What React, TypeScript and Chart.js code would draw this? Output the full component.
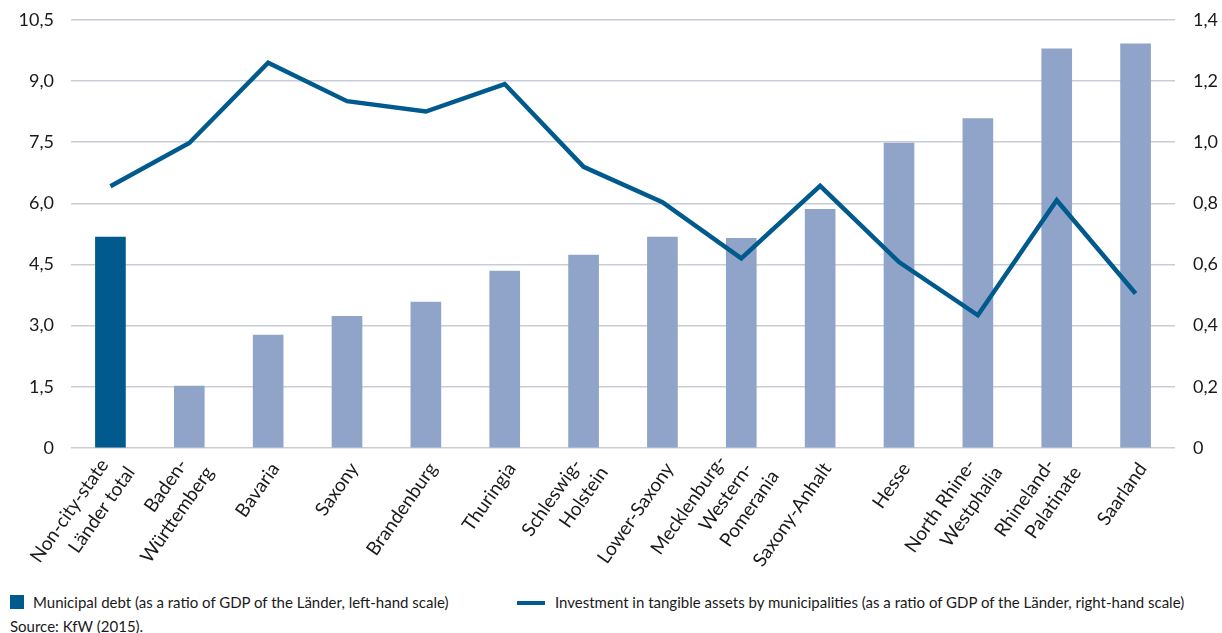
import React, { useEffect, useRef } from "react";
import { Chart, registerables } from "chart.js";

Chart.register(...registerables);

const categories: string[][] = [
  ["Non-city-state", "Länder total"],
  ["Baden-", "Württemberg"],
  ["Bavaria"],
  ["Saxony"],
  ["Brandenburg"],
  ["Thuringia"],
  ["Schleswig-", "Holstein"],
  ["Lower-Saxony"],
  ["Mecklenburg-", "Western-", "Pomerania"],
  ["Saxony-Anhalt"],
  ["Hesse"],
  ["North Rhine-", "Westphalia"],
  ["Rhineland-", "Palatinate"],
  ["Saarland"],
];

const municipalDebt: number[] = [5.17, 1.52, 2.77, 3.23, 3.58, 4.34, 4.73, 5.17, 5.14, 5.85, 7.48, 8.08, 9.79, 9.91];
const investment: number[] = [0.856, 0.997, 1.26, 1.134, 1.1, 1.19, 0.919, 0.804, 0.62, 0.857, 0.608, 0.434, 0.81, 0.505];

const leftTicks = { min: 0, max: 10.5, step: 1.5 };
const rightTicks = { min: 0, max: 1.4, step: 0.2 };

const debtLabel = "Municipal debt (as a ratio of GDP of the Länder, left-hand scale)";
const investLabel = "Investment in tangible assets by municipalities (as a ratio of GDP of the Länder, right-hand scale)";
const sourceText = "Source: KfW (2015).";

const DARK = "#005a8d";
const LIGHT = "#8fa4c8";
const GRID = "#c8cdd5";
const TEXT = "#1a1a1a";
const FONT = "Lato";

const fmt = (v: number) => (v === 0 ? "0" : v.toFixed(1).replace(".", ","));

const CANVAS_W = 1222;
const CANVAS_TOP = -9;
const CANVAS_H = 599;
const PLOT_LEFT = 71;
const PLOT_RIGHT = 1175;
const PLOT_BOTTOM = 448 - CANVAS_TOP;

const xLabelPlugin = {
  id: "xLabels",
  afterDraw(chart: any) {
    const { ctx, scales } = chart;
    const x = scales.x;
    const axisY = chart.chartArea.bottom;
    const angle = (-55 * Math.PI) / 180;
    const lineStep = 26;
    const alongStep = 9;
    ctx.save();
    ctx.fillStyle = TEXT;
    ctx.font = `19px ${FONT}`;
    ctx.textAlign = "right";
    ctx.textBaseline = "middle";
    categories.forEach((lines, i) => {
      const px = x.getPixelForValue(i);
      ctx.save();
      ctx.translate(px + 7, axisY + 17);
      ctx.rotate(angle);
      const n = lines.length;
      lines.forEach((line, j) => {
        const k = j - (n - 1) / 2;
        ctx.fillText(line, k * alongStep, k * lineStep);
      });
      ctx.restore();
    });
    ctx.restore();
  },
};

export default function App() {
  const ref = useRef<HTMLCanvasElement | null>(null);

  useEffect(() => {
    if (!ref.current) return;
    const chart = new Chart(ref.current, {
      type: "bar",
      data: {
        labels: categories.map((c) => c.join(" ")),
        datasets: [
          {
            type: "line",
            label: investLabel,
            data: investment,
            yAxisID: "y1",
            borderColor: DARK,
            backgroundColor: DARK,
            borderWidth: 4.5,
            pointRadius: 0,
            tension: 0,
            order: 0,
          } as any,
          {
            type: "bar",
            label: debtLabel,
            data: municipalDebt,
            yAxisID: "y",
            backgroundColor: municipalDebt.map((_, i) => (i === 0 ? DARK : LIGHT)),
            barThickness: 30,
            order: 1,
          },
        ],
      },
      options: {
        animation: false,
        responsive: false,
        maintainAspectRatio: false,
        layout: { padding: { top: 0, left: 0, right: 0, bottom: 0 } },
        plugins: { legend: { display: false }, tooltip: { enabled: false }, title: { display: false } },
        scales: {
          x: {
            offset: true,
            grid: { display: false, drawTicks: false },
            border: { display: false },
            ticks: { display: false },
            afterFit: (s: any) => {
              s.height = CANVAS_H - PLOT_BOTTOM;
            },
          },
          y: {
            position: "left",
            min: leftTicks.min,
            max: leftTicks.max,
            grid: { color: GRID, lineWidth: 1.5, drawTicks: false },
            border: { display: false },
            ticks: {
              stepSize: leftTicks.step,
              padding: 17,
              color: TEXT,
              font: { family: FONT, size: 18 },
              callback: (v: any) => fmt(Number(v)),
            },
            afterFit: (s: any) => {
              s.width = PLOT_LEFT;
            },
          },
          y1: {
            position: "right",
            min: rightTicks.min,
            max: rightTicks.max,
            grid: { display: false, drawTicks: false },
            border: { display: false },
            ticks: {
              stepSize: rightTicks.step,
              padding: 18,
              color: TEXT,
              font: { family: FONT, size: 18 },
              callback: (v: any) => fmt(Number(v)),
            },
            afterFit: (s: any) => {
              s.width = CANVAS_W - PLOT_RIGHT;
            },
          },
        },
      },
      plugins: [xLabelPlugin],
    });
    return () => chart.destroy();
  }, []);

  const legendText: React.CSSProperties = {
    position: "absolute",
    fontFamily: FONT,
    fontSize: 15,
    color: TEXT,
    whiteSpace: "nowrap",
    lineHeight: "18px",
  };

  return (
    <div style={{ position: "absolute", left: 0, top: 0, width: CANVAS_W, height: 633, overflow: "hidden", background: "#fff" }}>
      <canvas ref={ref} width={CANVAS_W} height={CANVAS_H} style={{ position: "absolute", left: 0, top: CANVAS_TOP, width: CANVAS_W, height: CANVAS_H }} />
      <div style={{ position: "absolute", left: 10, top: 595, width: 14, height: 14, background: DARK }} />
      <div style={{ ...legendText, left: 33, top: 593 }}>{debtLabel}</div>
      <div style={{ position: "absolute", left: 517, top: 601, width: 28, height: 4, background: DARK }} />
      <div style={{ ...legendText, left: 555, top: 593 }}>{investLabel}</div>
      <div style={{ ...legendText, left: 10, top: 617 }}>{sourceText}</div>
    </div>
  );
}
